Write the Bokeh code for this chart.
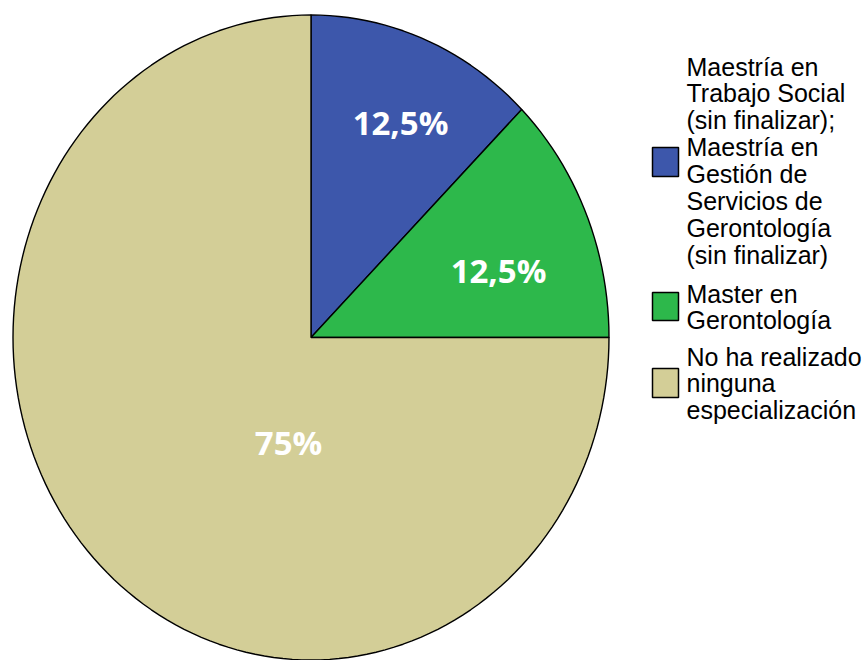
import math
from bokeh.plotting import figure
from bokeh.models import Range1d
from bokeh.core.properties import value
from bokeh.embed import file_html
from bokeh.resources import INLINE

# ---- data ----
categories = [
    "Maestría en\nTrabajo Social\n(sin finalizar);\nMaestría en\nGestión de\nServicios de\nGerontología\n(sin finalizar)",
    "Master en\nGerontología",
    "No ha realizado\nninguna\nespecialización",
]
percentages = [12.5, 12.5, 75.0]
colors = ["#3d57ab", "#2db84b", "#d3ce97"]

# ---- layout (page pixel coordinates) ----
CX, CY, RX, RY = 310.5, 337.0, 298.0, 322.5
label_pos = [(400, 122), (498, 270), (288, 442)]  # (center x, baseline y)
legend_text_x = 686
legend_first_baseline = [66, 293, 356]
legend_line_step = 26.9
legend_box = [(147, 176), (292, 320), (368, 397)]
legend_box_x = (652, 678)

W, H = 865, 660
p = figure(width=W, height=H, output_backend="svg", toolbar_location=None,
           x_range=Range1d(0, W), y_range=Range1d(H, 0), min_border=0)
p.axis.visible = False
p.grid.visible = False
p.outline_line_color = None
p.background_fill_color = "white"
p.border_fill_color = "white"

total = sum(percentages)
xs, ys = [], []
cum = 0.0
for v in percentages:
    a0 = cum / total * 2 * math.pi
    a1 = (cum + v) / total * 2 * math.pi
    n = max(8, int(200 * v / total))
    px = [CX]
    py = [CY]
    for i in range(n + 1):
        t = a0 + (a1 - a0) * i / n
        px.append(CX + RX * math.sin(t))
        py.append(CY - RY * math.cos(t))
    xs.append(px)
    ys.append(py)
    cum += v

p.patches(xs=xs, ys=ys, fill_color=colors, line_color="black", line_width=1.4)

labels = [("%g" % v).replace(".", ",") + "%" for v in percentages]
p.text(x=[q[0] for q in label_pos], y=[q[1] for q in label_pos], text=labels,
       text_color="white", text_font=value("Open Sans"), text_font_style="bold",
       text_font_size="33px", text_align="center", text_baseline="alphabetic")

# legend
p.quad(left=[legend_box_x[0]] * 3, right=[legend_box_x[1]] * 3,
       top=[b[0] for b in legend_box], bottom=[b[1] for b in legend_box],
       fill_color=colors, line_color="black", line_width=1.5)

tx, ty, tt = [], [], []
for cat, y0 in zip(categories, legend_first_baseline):
    for j, line in enumerate(cat.split("\n")):
        tx.append(legend_text_x)
        ty.append(y0 + j * legend_line_step)
        tt.append(line)
p.text(x=tx, y=ty, text=tt, text_color="black", text_font=value("Liberation Sans"),
       text_font_size="25px", text_align="left", text_baseline="alphabetic")

open("out.html", "w").write(file_html(p, INLINE))
